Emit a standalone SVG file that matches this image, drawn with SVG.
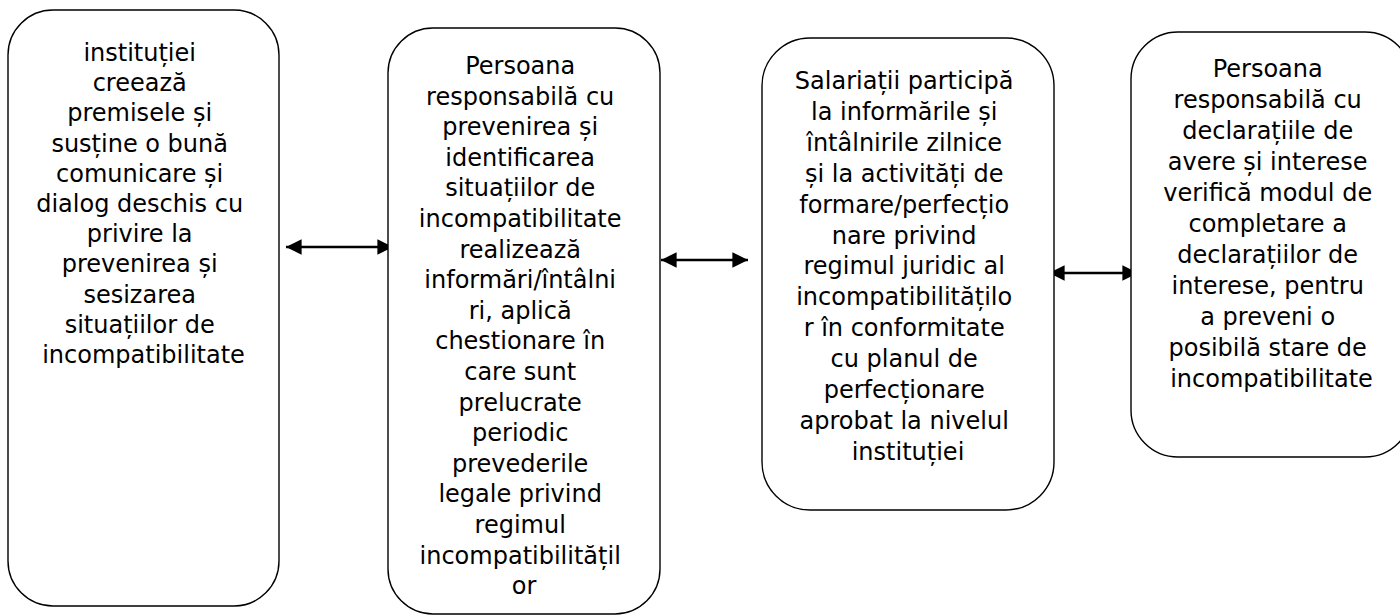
<svg xmlns="http://www.w3.org/2000/svg" width="1400" height="616" viewBox="0 0 1400 616">
<style>
.box{fill:#fff;stroke:#000;stroke-width:1.4}
.t{font-family:"DejaVu Sans","Open Sans",sans-serif;font-size:24px;fill:#000;text-anchor:middle}
.c{stroke:#000;stroke-width:2.6;fill:none;marker-start:url(#ah);marker-end:url(#ah)}
</style>
<defs>
<marker id="ah" viewBox="0 0 10 10" refX="10" refY="5" markerWidth="6" markerHeight="6" orient="auto-start-reverse" markerUnits="strokeWidth">
<path d="M0,0 L10,5 L0,10 z" fill="#000"/>
</marker>
</defs>
<rect width="1400" height="616" fill="#fff"/>
<g id="connectors">
<line class="c" x1="286" y1="247" x2="393" y2="247"/>
<line class="c" x1="661" y1="260" x2="748" y2="260"/>
<line class="c" x1="1049" y1="273" x2="1138" y2="273"/>
</g>
<g id="node1">
<rect class="box" x="8" y="10" width="271" height="596" rx="45"/>
<text class="t" x="143.5" y="61">
<tspan x="143.5" dy="0">instituției</tspan>
<tspan x="143.5" dy="30.2">creează</tspan>
<tspan x="143.5" dy="30.2">premisele și</tspan>
<tspan x="143.5" dy="30.2">susține o bună</tspan>
<tspan x="143.5" dy="30.2">comunicare și</tspan>
<tspan x="143.5" dy="30.2">dialog deschis cu</tspan>
<tspan x="143.5" dy="30.2">privire la</tspan>
<tspan x="143.5" dy="30.2">prevenirea și</tspan>
<tspan x="143.5" dy="30.2">sesizarea</tspan>
<tspan x="143.5" dy="30.2">situațiilor de</tspan>
<tspan x="143.5" dy="30.2">incompatibilitate</tspan>
</text>
</g>
<g id="node2">
<rect class="box" x="388" y="28" width="272" height="586" rx="45"/>
<text class="t" x="524" y="74">
<tspan x="524" dy="0">Persoana</tspan>
<tspan x="524" dy="30.6">responsabilă cu</tspan>
<tspan x="524" dy="30.6">prevenirea și</tspan>
<tspan x="524" dy="30.6">identificarea</tspan>
<tspan x="524" dy="30.6">situațiilor de</tspan>
<tspan x="524" dy="30.6">incompatibilitate</tspan>
<tspan x="524" dy="30.6">realizează</tspan>
<tspan x="524" dy="30.6">informări/întâlni</tspan>
<tspan x="524" dy="30.6">ri, aplică</tspan>
<tspan x="524" dy="30.6">chestionare în</tspan>
<tspan x="524" dy="30.6">care sunt</tspan>
<tspan x="524" dy="30.6">prelucrate</tspan>
<tspan x="524" dy="30.6">periodic</tspan>
<tspan x="524" dy="30.6">prevederile</tspan>
<tspan x="524" dy="30.6">legale privind</tspan>
<tspan x="524" dy="30.6">regimul</tspan>
<tspan x="524" dy="30.6">incompatibilitățil</tspan>
<tspan x="524" dy="30.6">or</tspan>
</text>
</g>
<g id="node3">
<rect class="box" x="762" y="38" width="292" height="472" rx="48"/>
<text class="t" x="908" y="89">
<tspan x="908" dy="0">Salariații participă</tspan>
<tspan x="908" dy="30.9">la informările și</tspan>
<tspan x="908" dy="30.9">întâlnirile zilnice</tspan>
<tspan x="908" dy="30.9">și la activități de</tspan>
<tspan x="908" dy="30.9">formare/perfecțio</tspan>
<tspan x="908" dy="30.9">nare privind</tspan>
<tspan x="908" dy="30.9">regimul juridic al</tspan>
<tspan x="908" dy="30.9">incompatibilitățilo</tspan>
<tspan x="908" dy="30.9">r în conformitate</tspan>
<tspan x="908" dy="30.9">cu planul de</tspan>
<tspan x="908" dy="30.9">perfecționare</tspan>
<tspan x="908" dy="30.9">aprobat la nivelul</tspan>
<tspan x="908" dy="30.9">instituției</tspan>
</text>
</g>
<g id="node4">
<rect class="box" x="1131" y="32" width="281" height="425" rx="47"/>
<text class="t" x="1271.5" y="77">
<tspan x="1271.5" dy="0">Persoana</tspan>
<tspan x="1271.5" dy="31">responsabilă cu</tspan>
<tspan x="1271.5" dy="31">declarațiile de</tspan>
<tspan x="1271.5" dy="31">avere și interese</tspan>
<tspan x="1271.5" dy="31">verifică modul de</tspan>
<tspan x="1271.5" dy="31">completare a</tspan>
<tspan x="1271.5" dy="31">declarațiilor de</tspan>
<tspan x="1271.5" dy="31">interese, pentru</tspan>
<tspan x="1271.5" dy="31">a preveni o</tspan>
<tspan x="1271.5" dy="31">posibilă stare de</tspan>
<tspan x="1271.5" dy="31">incompatibilitate</tspan>
</text>
</g>
</svg>
